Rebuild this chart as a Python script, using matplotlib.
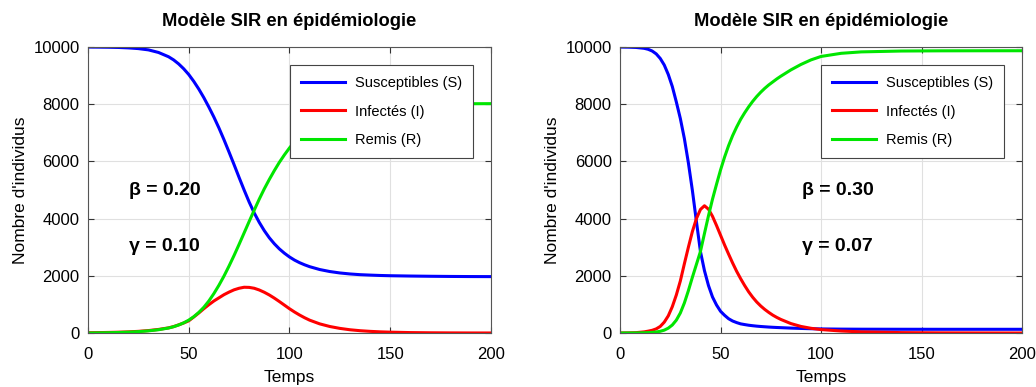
import numpy as np
import matplotlib
matplotlib.use("Agg")
import matplotlib.pyplot as plt

plt.rcParams['font.family'] = ['Liberation Sans', 'DejaVu Sans']

# --- gauche : beta = 0.20, gamma = 0.10 ---
t_a = [0, 5, 10, 15, 20, 25, 30, 35, 40, 42.5, 45, 47.5, 50, 52.5, 55, 57.5, 60, 62.5, 65, 67.5,
       70, 72.5, 75, 77.5, 80, 82.5, 85, 87.5, 90, 92.5, 95, 97.5, 100, 102.5, 105, 107.5, 110,
       115, 120, 125, 130, 135, 140, 145, 150, 160, 170, 180, 190, 200]
S_a = [10000, 9996, 9992, 9985, 9970, 9945, 9900, 9810, 9660, 9550, 9410, 9240, 9040, 8800, 8530, 8230, 7900, 7550, 7170, 6760,
       6330, 5890, 5440, 5000, 4580, 4200, 3870, 3580, 3330, 3120, 2940, 2790, 2660, 2550, 2460, 2385, 2320,
       2220, 2150, 2100, 2065, 2040, 2025, 2012, 2003, 1992, 1984, 1978, 1974, 1972]
I_a = [10, 14, 20, 28, 40, 58, 85, 125, 180, 225, 285, 350, 425, 560, 700, 850, 990, 1120, 1230, 1340,
       1430, 1510, 1565, 1600, 1595, 1565, 1505, 1425, 1330, 1220, 1100, 975, 850, 735, 630, 535, 450,
       320, 228, 162, 114, 81, 58, 41, 30, 15, 8, 4, 2, 1]
R_a = [0, 5, 10, 18, 30, 48, 75, 115, 175, 220, 280, 355, 450, 570, 720, 900, 1120, 1380, 1670, 1990,
       2340, 2710, 3100, 3500, 3900, 4295, 4680, 5040, 5370, 5680, 5970, 6230, 6470, 6690, 6890, 7060, 7210,
       7450, 7620, 7740, 7820, 7880, 7920, 7950, 7970, 7992, 8005, 8012, 8017, 8020]

# --- droite : beta = 0.30, gamma = 0.07 ---
t_b = [0, 4, 8, 12, 14, 16, 18, 20, 22, 24, 26, 28, 30, 32, 34, 36, 38, 40, 42, 44,
       46, 48, 50, 52, 54, 56, 58, 60, 62, 64, 66, 68, 70, 72, 74, 76, 78, 80,
       85, 90, 95, 100, 110, 120, 140, 160, 180, 200]
S_b = [10000, 9995, 9985, 9955, 9920, 9860, 9760, 9600, 9370, 9040, 8620, 8080, 7500, 6800, 5950, 4980, 3900, 2850, 2180, 1660,
       1260, 980, 760, 620, 500, 420, 365, 320, 295, 272, 255, 240, 228, 218, 208, 200, 193, 187,
       172, 160, 150, 143, 136, 133, 131, 130, 130, 130]
I_b = [2, 5, 13, 40, 65, 95, 145, 230, 380, 600, 920, 1330, 1820, 2420, 3000, 3550, 4000, 4320, 4450, 4330,
       4080, 3760, 3420, 3080, 2760, 2450, 2160, 1900, 1660, 1440, 1250, 1085, 945, 825, 720, 625, 545, 475,
       330, 230, 165, 120, 70, 40, 14, 6, 3, 1]
R_b = [0, 1, 3, 8, 14, 22, 36, 60, 100, 170, 280, 450, 700, 1050, 1480, 1950, 2400, 2850, 3480, 4100,
       4680, 5200, 5700, 6150, 6550, 6900, 7200, 7470, 7700, 7910, 8100, 8270, 8420, 8555, 8675, 8780, 8885, 8980,
       9200, 9390, 9550, 9670, 9780, 9830, 9860, 9867, 9869, 9870]

params = [("0.20", "0.10"), ("0.30", "0.07")]
labels = ["Susceptibles (S)", "Infectés (I)", "Remis (R)"]
colors = ["#0000ff", "#ff0000", "#00e600"]

fig = plt.figure(figsize=(10.36, 3.87), dpi=100)
ax1 = fig.add_axes([0.0849, 0.1395, 0.389, 0.739])
ax2 = fig.add_axes([0.5985, 0.1395, 0.388, 0.739])

data = [(ax1, t_a, S_a, I_a, R_a, 20.3), (ax2, t_b, S_b, I_b, R_b, 90.5)]

for k, (ax, t, S, I, R, xtxt) in enumerate(data):
    for y, lab, c in zip([S, I, R], labels, colors):
        ax.plot(t, y, color=c, lw=2.2, label=lab, solid_joinstyle="round")
    ax.set_xlim(0, 200)
    ax.set_ylim(0, 10000)
    ax.set_xticks([0, 50, 100, 150, 200])
    ax.set_yticks([0, 2000, 4000, 6000, 8000, 10000])
    ax.grid(True, color="#e0e0e0", lw=0.8)
    ax.set_axisbelow(True)
    ax.tick_params(direction="in", top=True, right=True, labelsize=12,
                   length=4, color="#333333", pad=6)
    ax.tick_params(axis="x", pad=10)
    for sp in ax.spines.values():
        sp.set_color("#555555")
        sp.set_linewidth(0.8)
    ax.set_title("Modèle SIR en épidémiologie", fontsize=13.2, fontweight="bold", pad=15)
    ax.set_xlabel("Temps", fontsize=12.5, labelpad=5.5)
    ax.set_ylabel("Nombre d'individus", fontsize=12.5, labelpad=4)
    b, g = params[k]
    ax.text(xtxt, 5000, "β = " + b, fontsize=14, fontweight="bold", va="center")
    ax.text(xtxt, 3020, "γ = " + g, fontsize=14, fontweight="bold", va="center")
    leg = ax.legend(loc="upper right", bbox_to_anchor=(0.955, 0.937), borderaxespad=0,
                    fontsize=10.5, fancybox=False, framealpha=1, edgecolor="#444444",
                    handlelength=3, labelspacing=1.0, borderpad=0.75, handletextpad=0.7)
    leg.get_frame().set_linewidth(0.8)

fig.savefig("out.png", dpi=100)
